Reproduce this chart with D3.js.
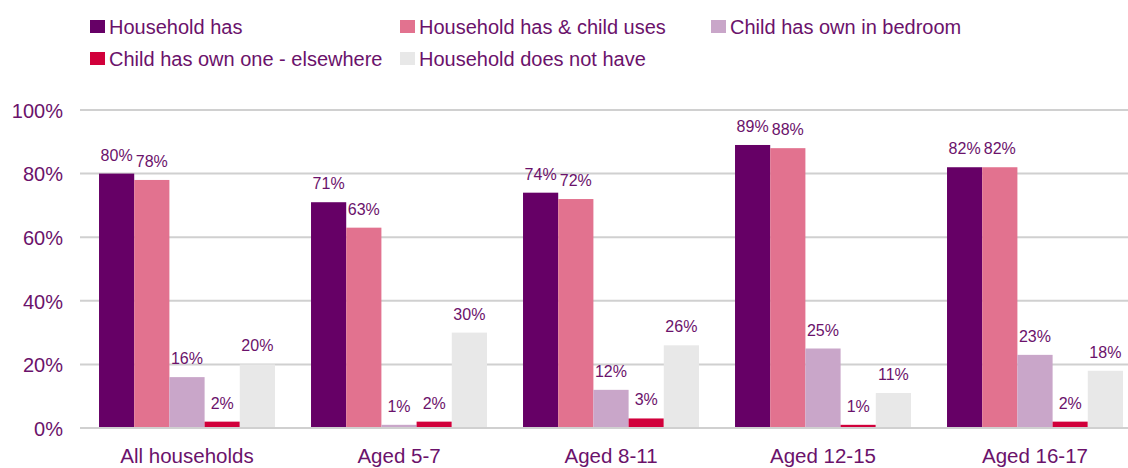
<!DOCTYPE html>
<html>
<head>
<meta charset="utf-8">
<script src="https://cdn.jsdelivr.net/npm/d3@7"></script>
<style>
  html, body { margin: 0; padding: 0; background: #ffffff; }
  svg { display: block; font-family: "Liberation Sans", Arial, sans-serif; }
</style>
</head>
<body>
<svg id="chart" width="1128" height="468"></svg>
<script>
// Age groups along the x axis
const categories = ["All households", "Aged 5-7", "Aged 8-11", "Aged 12-15", "Aged 16-17"];

// Series names (legend order)
const seriesNames = [
  "Household has",
  "Household has & child uses",
  "Child has own in bedroom",
  "Child has own one - elsewhere",
  "Household does not have"
];

// Values in percent, one array per series, ordered as categories
const householdHas      = [80, 71, 74, 89, 82];
const childUses         = [78, 63, 72, 88, 82];
const ownInBedroom      = [16, 1, 12, 25, 23];
const ownElsewhere      = [2, 2, 3, 1, 2];
const doesNotHave       = [20, 30, 26, 11, 18];

const seriesValues = [householdHas, childUses, ownInBedroom, ownElsewhere, doesNotHave];

// Y axis ticks
const yTicks = [0, 20, 40, 60, 80, 100];

const colors = ["#660066", "#e2728f", "#c9a6c9", "#d1003b", "#e8e8e8"];
const textColor = "#6b126b";

const svg = d3.select("#chart");

const x0 = d3.scaleBand()
  .domain(categories)
  .range([81, 1141])
  .paddingInner(0.17)
  .paddingOuter(0.085);

const x1 = d3.scaleBand()
  .domain(d3.range(seriesNames.length))
  .range([0, x0.bandwidth()]);

const y = d3.scaleLinear().domain([0, 100]).range([428, 110]);

// Gridlines
svg.append("g")
  .selectAll("line")
  .data(yTicks)
  .join("line")
  .attr("x1", 80)
  .attr("x2", 1128)
  .attr("y1", d => y(d))
  .attr("y2", d => y(d))
  .attr("stroke", "#d0d0d0")
  .attr("stroke-width", 2);

// Y axis labels
const yAxis = d3.axisLeft(y).tickValues(yTicks).tickFormat(d => d + "%").tickSize(0).tickPadding(0);
const yg = svg.append("g").attr("transform", "translate(63,0)").call(yAxis);
yg.select(".domain").remove();
yg.selectAll("text")
  .attr("fill", textColor)
  .attr("font-size", "20px")
  .attr("font-family", "Liberation Sans, Arial, sans-serif")
  .attr("dy", "0.36em");

// Bars
const rows = categories.map((c, i) => ({
  cat: c,
  vals: seriesValues.map((s, k) => ({ k, v: s[i] }))
}));

const groups = svg.append("g")
  .selectAll("g")
  .data(rows)
  .join("g")
  .attr("transform", d => `translate(${x0(d.cat)},0)`);

groups.selectAll("rect")
  .data(d => d.vals)
  .join("rect")
  .attr("x", d => x1(d.k))
  .attr("width", x1.bandwidth())
  .attr("y", d => y(d.v))
  .attr("height", d => y(0) - y(d.v) - 1)
  .attr("fill", d => colors[d.k]);

groups.selectAll("text")
  .data(d => d.vals)
  .join("text")
  .attr("x", d => x1(d.k) + x1.bandwidth() / 2)
  .attr("y", d => y(d.v) - 13)
  .attr("text-anchor", "middle")
  .attr("font-size", "16px")
  .attr("fill", textColor)
  .text(d => d.v + "%");

// Category axis labels
const xAxis = d3.axisBottom(x0).tickSize(0).tickPadding(0);
const xg = svg.append("g").attr("transform", "translate(0,463)").call(xAxis);
xg.select(".domain").remove();
xg.selectAll("text")
  .attr("fill", textColor)
  .attr("font-size", "20.5px")
  .attr("font-family", "Liberation Sans, Arial, sans-serif")
  .attr("dy", 0);

// Legend
const legendPos = [
  [90, 20], [400, 20], [711, 20],
  [90, 52], [400, 52]
];
const legend = svg.append("g")
  .selectAll("g")
  .data(seriesNames)
  .join("g")
  .attr("transform", (d, i) => `translate(${legendPos[i][0]},${legendPos[i][1]})`);

legend.append("rect")
  .attr("width", 15)
  .attr("height", 13)
  .attr("fill", (d, i) => colors[i]);

legend.append("text")
  .attr("x", 19)
  .attr("y", 13.5)
  .attr("font-size", "20px")
  .attr("fill", textColor)
  .text(d => d);
</script>
</body>
</html>
